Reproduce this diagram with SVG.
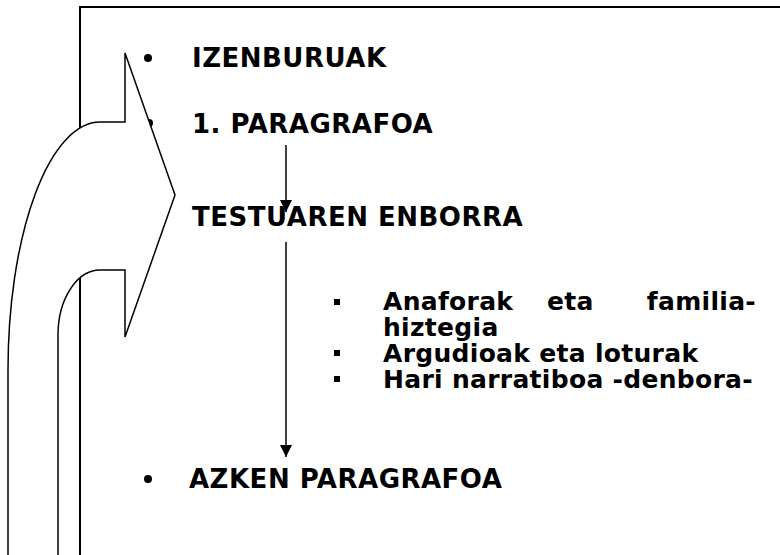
<svg xmlns="http://www.w3.org/2000/svg" width="780" height="555" viewBox="0 0 780 555">
<defs>
<marker id="ah" markerWidth="15" markerHeight="12" refX="15" refY="7.5" orient="auto" markerUnits="userSpaceOnUse" viewBox="0 0 15 15">
<path d="M0,0 L15,7.5 L0,15 Z" fill="#000"/>
</marker>
</defs>
<style>
.t{font-family:"DejaVu Sans","Liberation Sans",sans-serif;font-weight:bold;fill:#000}
.h{font-size:26px;letter-spacing:0.5px}
.s{font-size:25px;letter-spacing:0.3px}
.ln{stroke:#000;fill:none}
</style>
<rect width="780" height="555" fill="#fff"/>
<g id="frame">
<path class="ln" stroke-width="2" d="M80,560 L80,7 L782,7"/>
</g>
<g id="n-izenburuak">
<circle cx="148" cy="58" r="4"/>
<text class="t h" x="192" y="67">IZENBURUAK</text>
</g>
<g id="n-paragrafoa1">
<circle cx="149" cy="123" r="4"/>
<text class="t h" x="192" y="133">1. PARAGRAFOA</text>
</g>
<g id="n-testuaren">
<circle cx="148" cy="217" r="4"/>
<text class="t h" x="192" y="226">TESTUAREN ENBORRA</text>
</g>
<g id="n-sub">
<rect x="334" y="299" width="6" height="6"/>
<text class="t s" x="383" y="310">Anaforak</text>
<text class="t s" x="547" y="310">eta</text>
<text class="t s" x="756" y="310" text-anchor="end">familia-</text>
<text class="t s" x="383" y="336">hiztegia</text>
<rect x="334" y="350" width="6" height="6"/>
<text class="t s" x="383" y="362">Argudioak eta loturak</text>
<rect x="334" y="376" width="6" height="6"/>
<text class="t s" x="383" y="388">Hari narratiboa -denbora-</text>
</g>
<g id="n-azken">
<circle cx="148" cy="479" r="4"/>
<text class="t h" x="189" y="488">AZKEN PARAGRAFOA</text>
</g>
<g id="connectors">
<line class="ln" stroke-width="1.5" x1="286" y1="145" x2="286" y2="212" marker-end="url(#ah)"/>
<line class="ln" stroke-width="1.5" x1="286" y1="242" x2="286" y2="457" marker-end="url(#ah)"/>
</g>
<g id="uturn-arrow">
<path d="M8,560 L8,370 A92,248 0 0 1 100,122 L125,122 L125,53 L175,195 L125,337 L125,270 L100,270 A42,65 0 0 0 58,335 L58,560 Z" fill="#fff" stroke="#000" stroke-width="1.5" stroke-linejoin="miter"/>
</g>
</svg>
